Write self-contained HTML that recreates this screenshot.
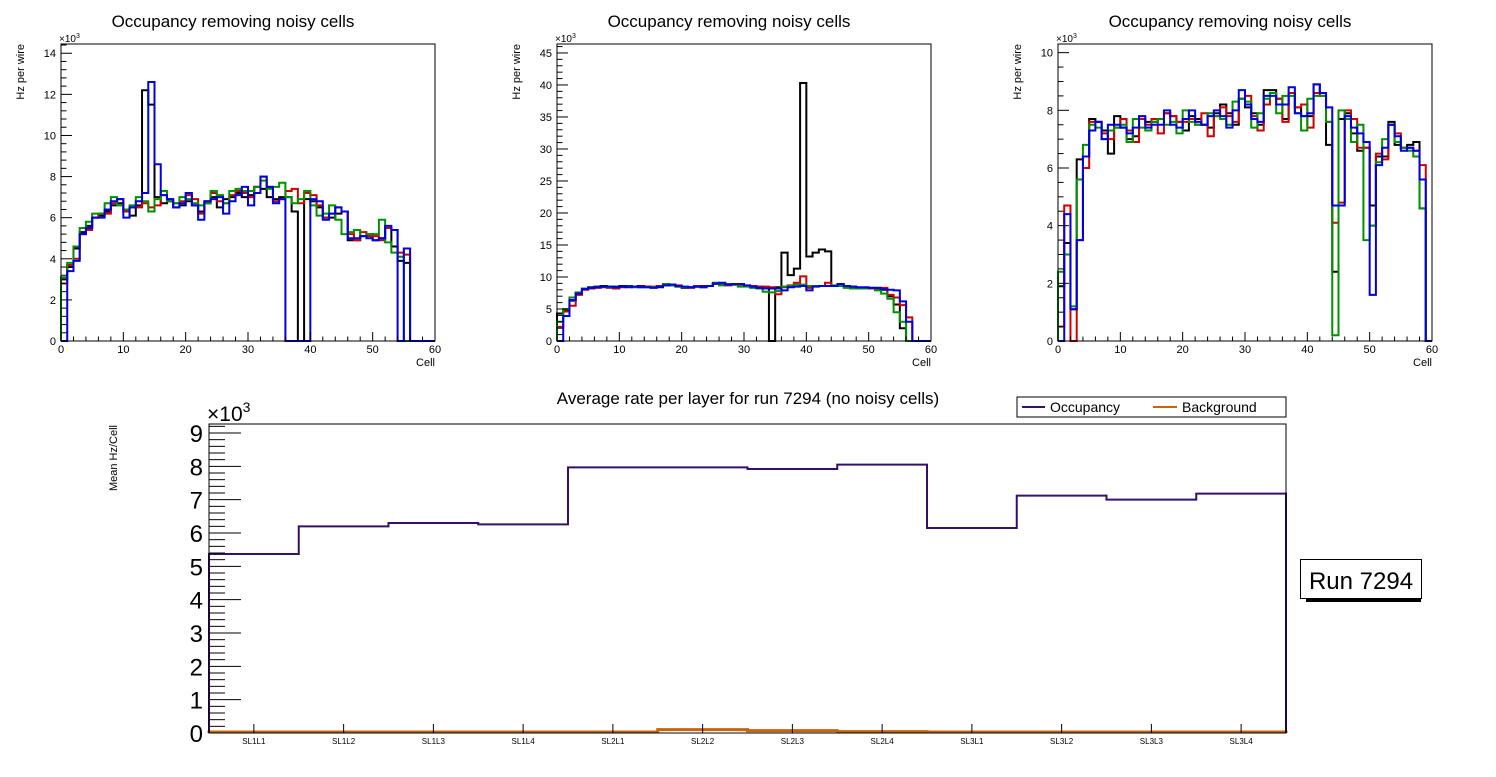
<!DOCTYPE html>
<html><head><meta charset="utf-8"><style>
body{margin:0;background:#fff;width:1496px;height:772px;overflow:hidden;font-family:"Liberation Sans",sans-serif}
svg text{font-family:"Liberation Sans",sans-serif}
</style></head><body>
<svg id="c" width="1496" height="772" viewBox="0 0 1496 772" xmlns="http://www.w3.org/2000/svg"></svg>
<script>
const NS="http://www.w3.org/2000/svg";
const svg=document.getElementById('c');
const p1Black=[3.0,3.6,4.5,5.3,5.6,6.0,6.1,6.3,6.6,6.7,6.3,6.1,6.6,12.2,11.5,7.0,6.7,6.8,6.5,6.6,6.8,6.6,6.3,6.7,7.0,6.5,6.9,7.0,7.2,7.0,7.1,7.5,7.4,7.0,6.9,7.0,7.0,6.3,0,6.9,6.8,6.5,6.0,6.0,6.2,6.3,4.9,4.9,5.1,5.2,4.9,5.0,5.5,4.6,3.9,3.8,0,0,0,0];
const p1Red=[2.8,3.7,4.0,5.2,5.4,6.0,6.2,6.2,6.7,6.9,6.3,6.5,6.5,6.7,6.5,6.6,7.1,6.9,6.7,6.8,7.1,6.9,6.2,6.8,7.2,6.8,6.7,7.1,7.3,7.2,7.0,7.5,8.0,7.5,6.8,6.9,7.3,7.4,6.7,7.2,7.1,6.6,6.0,6.2,6.5,6.3,5.2,4.9,5.3,5.1,5.1,4.9,5.5,5.4,4.3,4.2,0,0,0,0];
const p1Green=[3.1,3.8,4.6,5.5,5.8,6.2,6.2,6.7,7.0,6.6,6.4,6.6,7.0,6.8,6.3,6.9,7.3,6.8,6.7,7.0,6.9,6.7,6.6,6.7,7.3,7.1,6.7,7.3,7.4,7.3,7.3,7.5,7.8,7.4,7.5,7.7,7.0,6.7,6.9,7.3,6.6,6.1,6.2,6.6,5.9,5.2,5.3,5.4,5.1,5.2,5.2,5.9,4.8,4.3,4.1,0,0,0,0,0];
const p1Blue=[0,3.4,3.9,5.2,5.5,6.0,6.0,6.4,6.8,6.9,6.0,6.5,6.8,7.2,12.6,8.6,7.1,6.9,6.5,6.7,7.2,6.6,5.9,6.8,6.9,7.0,6.2,6.8,7.1,7.5,6.6,7.2,8.0,7.5,6.7,6.9,0,0,0,0,6.9,6.8,5.9,6.2,6.5,6.3,5.0,5.0,5.1,5.0,4.9,5.0,5.6,5.4,0,4.5,0,0,0,0];
const p2Black=[4.3,4.9,6.3,7.5,8.2,8.4,8.5,8.6,8.5,8.5,8.6,8.6,8.5,8.6,8.5,8.4,8.4,8.7,8.8,8.5,8.3,8.4,8.5,8.6,8.6,8.9,9.0,8.8,8.8,8.8,8.6,8.5,8.5,8.4,0,8.4,13.8,10.3,11.3,40.3,13.2,13.8,14.3,14.0,8.6,8.8,8.6,8.5,8.3,8.3,8.3,8.3,8.0,7.0,5.7,2.0,0,0,0,0];
const p2Red=[2.2,4.6,5.5,7.2,8.0,8.2,8.3,8.4,8.3,8.2,8.4,8.5,8.5,8.5,8.5,8.5,8.6,8.8,8.7,8.7,8.4,8.3,8.6,8.5,8.6,8.9,9.0,8.7,8.8,8.8,8.6,8.6,8.5,8.5,8.4,7.3,8.4,8.7,9.1,10.1,8.3,8.6,8.6,9.1,8.6,8.7,8.5,8.3,8.2,8.2,8.2,8.2,8.3,7.2,6.8,5.6,3.7,0,0,0];
const p2Green=[3.0,5.0,6.8,7.6,8.2,8.3,8.4,8.5,8.4,8.4,8.5,8.5,8.4,8.4,8.4,8.4,8.5,8.9,8.7,8.5,8.4,8.4,8.5,8.4,8.6,9.1,8.7,8.9,8.8,8.5,8.5,8.3,8.2,7.7,7.6,7.8,8.5,8.6,8.8,8.8,8.6,8.6,8.6,8.6,8.7,8.6,8.3,8.2,8.2,8.2,8.3,7.9,7.4,6.6,4.5,3.0,0,0,0,0];
const p2Blue=[0,3.9,6.4,7.4,8.1,8.3,8.4,8.5,8.5,8.4,8.5,8.4,8.5,8.4,8.4,8.3,8.5,8.7,8.8,8.6,8.5,8.4,8.5,8.4,8.6,9.0,9.1,8.8,8.9,8.9,8.7,8.5,8.3,8.2,8.2,8.2,7.9,8.4,8.5,8.6,7.9,8.5,8.6,8.6,8.6,8.9,8.6,8.5,8.4,8.4,8.3,8.3,8.1,8.0,7.9,6.2,3.0,0,0,0];
const p3Black=[1.9,3.4,1.1,6.3,6.4,7.7,7.6,7.3,6.5,7.8,7.4,7.0,7.1,7.7,7.6,7.6,7.7,7.9,7.8,7.6,7.3,7.8,7.7,7.5,7.4,7.9,8.2,7.9,7.5,8.4,8.1,7.9,7.5,8.7,8.7,8.4,7.7,8.6,8.1,7.8,7.8,8.9,8.6,6.8,2.4,7.7,7.9,7.2,6.6,6.7,4.7,6.4,6.4,7.6,6.8,6.7,6.8,6.9,4.6,0];
const p3Red=[0.5,4.7,0,3.5,6.0,7.6,7.6,7.2,7.0,7.4,7.7,7.3,6.9,7.7,7.5,7.7,7.2,7.9,7.8,7.6,7.6,7.7,7.5,7.9,7.1,7.8,8.1,7.8,7.6,8.4,8.5,7.8,7.3,8.2,8.6,8.4,7.6,8.6,8.1,8.2,7.4,8.6,8.5,7.6,4.1,4.8,8.0,7.7,6.7,6.7,4.0,6.5,6.3,7.5,7.2,6.7,6.7,6.6,6.1,0];
const p3Green=[2.4,3.0,1.2,5.6,6.8,7.5,7.4,7.0,7.3,7.4,7.5,6.9,7.7,7.4,7.3,7.6,7.7,7.5,7.6,7.2,8.0,7.6,7.5,7.5,7.9,7.8,7.7,7.5,8.3,8.4,8.3,7.4,7.9,8.4,8.6,7.9,8.5,8.5,7.9,7.3,8.4,8.5,8.5,7.6,0.2,8.0,7.7,6.9,7.5,3.5,4.0,6.2,7.0,7.5,6.9,6.7,6.6,6.4,4.6,0];
const p3Blue=[0,4.4,1.1,3.5,6.4,7.3,7.6,7.0,7.5,7.5,7.4,7.2,7.4,7.8,7.4,7.5,7.5,8.0,7.5,7.4,7.7,8.0,7.6,7.5,7.8,8.0,7.8,7.4,8.0,8.7,8.2,7.7,7.6,8.5,8.5,8.2,8.2,8.8,7.9,7.8,7.9,8.9,8.6,8.1,4.7,4.7,7.8,7.4,7.2,6.9,1.6,6.1,6.7,7.5,7.1,6.6,6.7,6.6,5.6,0];
const layers=["SL1L1","SL1L2","SL1L3","SL1L4","SL2L1","SL2L2","SL2L3","SL2L4","SL3L1","SL3L2","SL3L3","SL3L4"];
const occupancy=[5.37,6.2,6.3,6.26,7.97,7.97,7.92,8.05,6.15,7.12,7.0,7.18];
const background=[0.03,0.03,0.03,0.03,0.03,0.1,0.07,0.04,0.03,0.03,0.03,0.03];
const p1Ticks=[0,2,4,6,8,10,12,14];
const p2Ticks=[0,5,10,15,20,25,30,35,40,45];
const p3Ticks=[0,2,4,6,8,10];
const xTicks=[0,10,20,30,40,50,60];
const botTicks=[0,1,2,3,4,5,6,7,8,9];

function el(tag,attrs,parent){const e=document.createElementNS(NS,tag);for(const k in attrs)e.setAttribute(k,attrs[k]);(parent||svg).appendChild(e);return e;}
function txt(s,attrs,parent){const t=el('text',attrs,parent);t.textContent=s;return t;}
function histPath(vals,X,Y){let d='M'+X(0)+','+Y(0);for(let i=0;i<vals.length;i++){d+=' L'+X(i)+','+Y(vals[i])+' L'+X(i+1)+','+Y(vals[i]);}d+=' L'+X(vals.length)+','+Y(0);return d;}

function panel(name,x0,ymax,ticks,minor,series){
  const g=el('g',{});
  
  
  const L=x0,R=x0+374,T=44,B=341;
  const X=v=>L+(v/60)*(R-L);
  const Y=v=>B-(v/ymax)*(B-T);
  const t=txt('Occupancy removing noisy cells',{x:(L+R)/2-15,y:27,'font-size':17,'text-anchor':'middle',fill:'#000'},g);
  
  const cols=['#000','#d00000','#009000','#0000e0'];
  series.forEach((s,i)=>{const p=el('path',{d:histPath(s,X,Y),fill:'none',stroke:cols[i],'stroke-width':2},g);
    });
  el('rect',{x:L,y:T,width:R-L,height:B-T,fill:'none',stroke:'#000','stroke-width':1},g);
  for(let v=0;v<=ymax+1e-9;v+=minor){const isMaj=ticks.some(m=>Math.abs(m-v)<1e-6);el('line',{x1:L,x2:L+(isMaj?11:5.5),y1:Y(v),y2:Y(v),stroke:'#000'},g);}
  ticks.forEach(v=>{if(v<=ymax){const a=txt(String(v),{x:L-5,y:Y(v)+4,'font-size':11,'text-anchor':'end'},g);}});
  for(let v=0;v<=60;v+=2){const isMaj=v%10===0;el('line',{x1:X(v),x2:X(v),y1:B,y2:B-(isMaj?9:4.5),stroke:'#000'},g);}
  xTicks.forEach(v=>{const a=txt(String(v),{x:X(v),y:B+12,'font-size':11,'text-anchor':'middle'},g);});
  const e=txt('×10',{x:L-2,y:T-2,'font-size':10},g);el('tspan',{dy:-4,'font-size':7},e).textContent='3';
  const yl=txt('Hz per wire',{x:0,y:0,'font-size':11,'text-anchor':'end',transform:`translate(${L-37},${T})rotate(-90)`},g);
  
  const xl=txt('Cell',{x:R,y:B+25,'font-size':11,'text-anchor':'end'},g);
  
}
panel('panel-1',61,14.45,p1Ticks,0.4,[p1Black,p1Red,p1Green,p1Blue]);
panel('panel-2',557,46.4,p2Ticks,1,[p2Black,p2Red,p2Green,p2Blue]);
panel('panel-3',1058,10.3,p3Ticks,0.5,[p3Black,p3Red,p3Green,p3Blue]);

// bottom chart
(function(){
  const g=el('g',{});
  
  
  const L=209,R=1286,T=424,B=733,ymax=9.27;
  const n=layers.length,bw=(R-L)/n;
  const X=i=>L+i*bw;
  const Y=v=>B-(v/ymax)*(B-T);
  const t=txt('Average rate per layer for run 7294 (no noisy cells)',{x:748,y:404,'font-size':17,'text-anchor':'middle'},g);
  
  const pb=el('path',{d:histPath(background,X,Y),fill:'none',stroke:'#c8640a','stroke-width':3},g);
  
  const po=el('path',{d:histPath(occupancy,X,Y),fill:'none',stroke:'#34106a','stroke-width':2},g);
  
  el('rect',{x:L,y:T,width:R-L,height:B-T,fill:'none',stroke:'#000'},g);
  for(let k=0;k<=46;k++){const v=k*0.2;if(v>ymax)break;const maj=k%5===0;el('line',{x1:L,x2:L+(maj?32:16),y1:Y(v),y2:Y(v),stroke:'#000'},g);}
  botTicks.forEach(v=>{const a=txt(String(v),{x:L-6,y:Y(v)+9,'font-size':24,'text-anchor':'end'},g);});
  layers.forEach((s,i)=>{const cx=X(i)+bw/2;el('line',{x1:cx,x2:cx,y1:B,y2:B-9,stroke:'#000'},g);
    const a=txt(s,{x:cx,y:B+11,'font-size':8,'text-anchor':'middle'},g);});
  const e=txt('×10',{x:207,y:421,'font-size':21},g);el('tspan',{dy:-9,'font-size':14},e).textContent='3';
  const yl=txt('Mean Hz/Cell',{x:0,y:0,'font-size':11,'text-anchor':'end',transform:'translate(117,425)rotate(-90)'},g);
  
  const lg=el('g',{},g);
  
  el('rect',{x:1017,y:397,width:269,height:20,fill:'#fff',stroke:'#000'},lg);
  el('line',{x1:1022,x2:1045,y1:407,y2:407,stroke:'#34106a','stroke-width':2},lg);
  txt('Occupancy',{x:1050,y:412,'font-size':14},lg);
  el('line',{x1:1153,x2:1177,y1:407,y2:407,stroke:'#c8640a','stroke-width':2},lg);
  txt('Background',{x:1182,y:412,'font-size':14},lg);
  const rb=el('g',{},g);
  
  el('rect',{x:1306,y:598,width:115,height:4,fill:'#000'},rb);
  el('rect',{x:1300.5,y:559.5,width:121,height:39,fill:'#fff',stroke:'#000'},rb);
  txt('Run 7294',{x:1361,y:589,'font-size':24,'text-anchor':'middle'},rb);
})();
</script>
</body></html>
